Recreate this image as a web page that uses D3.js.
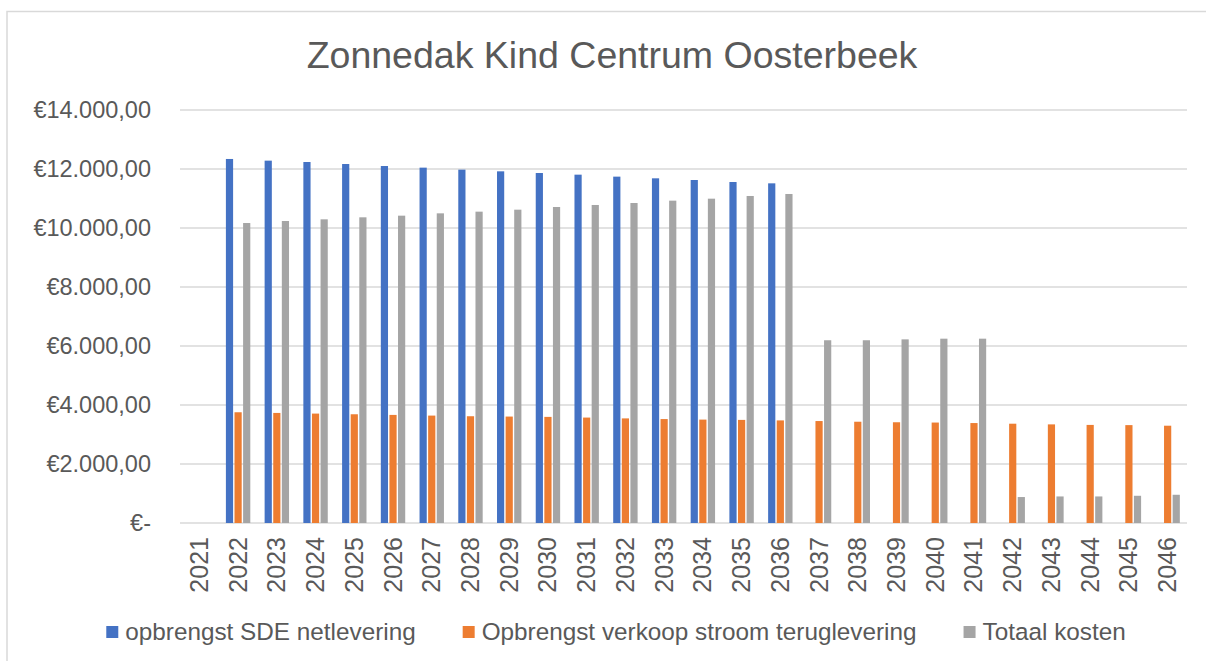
<!DOCTYPE html>
<html>
<head>
<meta charset="utf-8">
<script src="https://cdn.jsdelivr.net/npm/d3@7"></script>
<style>
    body { margin: 0; background: #fff; }
    text { font-family: "Liberation Sans", Arial, sans-serif; fill: #595959; }
</style>
</head>
<body>
<div id="chart"></div>
<script>
/* Zonnedak Kind Centrum Oosterbeek - clustered columns */

const years = d3.range(2021, 2047).map(String);

// opbrengst SDE netlevering (2022-2036)
const sde = [null,
    12340, 12283, 12237, 12169, 12101, 12046, 11978, 11921, 11864, 11808,
    11741, 11684, 11627, 11559, 11514,
    null, null, null, null, null, null, null, null, null, null];

// Opbrengst verkoop stroom teruglevering
const verkoop = [null,
    3754, 3731, 3709, 3686, 3664, 3641, 3619, 3608, 3597, 3574,
    3546, 3523, 3505, 3495, 3478, 3456, 3433, 3415, 3405, 3388,
    3366, 3343, 3325, 3318, 3298];

// Totaal kosten
const kosten = [null,
    10169, 10237, 10294, 10362, 10418, 10497, 10554, 10621, 10712, 10780,
    10847, 10927, 10994, 11085, 11153,
    6195, 6195, 6225, 6248, 6248,
    880, 900, 900, 923, 957];

const seriesNames = ["opbrengst SDE netlevering", "Opbrengst verkoop stroom teruglevering", "Totaal kosten"];
const colors = ["#4472C4", "#ED7D31", "#A5A5A5"];
const yTicks = [0, 2000, 4000, 6000, 8000, 10000, 12000, 14000];

const width = 1206,
    height = 661,
    margin = ({ top: 110, right: 19, bottom: 138, left: 180 });

const svg = d3.select("#chart")
    .append("svg")
    .attr("width", width)
    .attr("height", height)
    .attr("viewBox", [0, 0, width, height]);

// chart frame
svg.append("rect")
    .attr("x", 7)
    .attr("y", 11.5)
    .attr("width", width + 20)
    .attr("height", height + 20)
    .attr("fill", "none")
    .attr("stroke", "#d9d9d9")
    .attr("stroke-width", 1.5);

const x = d3.scaleBand()
    .domain(years)
    .range([margin.left, width - margin.right]);

const y = d3.scaleLinear()
    .domain([0, 14000])
    .range([height - margin.bottom, margin.top]);

const fmt = v => v === 0 ? "€-" : "€" + d3.format(",.2f")(v).replace(/,/g, "#").replace(".", ",").replace(/#/g, ".");

// gridlines
svg.append("g")
    .selectAll("line")
    .data(yTicks)
    .join("line")
    .attr("x1", margin.left)
    .attr("x2", width - margin.right)
    .attr("y1", d => y(d))
    .attr("y2", d => y(d))
    .attr("stroke", "#d9d9d9")
    .attr("stroke-width", 1.5);

// y labels
svg.append("g")
    .selectAll("text")
    .data(yTicks)
    .join("text")
    .attr("x", 151)
    .attr("y", d => y(d))
    .attr("dy", "0.36em")
    .attr("text-anchor", "end")
    .style("font-size", "23.5px")
    .text(fmt);

// bars
const data = [sde, verkoop, kosten];
const slot = 8.6;

data.forEach((vals, i) => {
    svg.append("g")
        .selectAll("rect")
        .data(years.map((yr, j) => ({ yr, v: vals[j] })).filter(d => d.v != null))
        .join("rect")
        .attr("x", d => x(d.yr) + x.bandwidth() / 2 + (i - 1) * slot - 3.6)
        .attr("width", 7.2)
        .attr("y", d => y(d.v))
        .attr("height", d => y(0) - y(d.v))
        .attr("fill", colors[i]);
});

// x labels
svg.append("g")
    .selectAll("text")
    .data(years)
    .join("text")
    .attr("transform", d => `translate(${x(d) + x.bandwidth() / 2 + 8.5},537) rotate(-90)`)
    .attr("text-anchor", "end")
    .style("font-size", "25px")
    .text(d => d);

// title
svg.append("text")
    .attr("x", 612)
    .attr("y", 68)
    .attr("text-anchor", "middle")
    .style("font-size", "37.5px")
    .text("Zonnedak Kind Centrum Oosterbeek");

// legend
const legend = svg.append("g");
const items = legend.selectAll("g")
    .data(seriesNames)
    .join("g");

items.append("rect")
    .attr("width", 12)
    .attr("height", 12)
    .attr("y", -14)
    .attr("fill", (d, i) => colors[i]);

items.append("text")
    .attr("x", 19)
    .style("font-size", "24.3px")
    .text(d => d);

let pos = 0;
const gap = 47;
items.each(function () {
    const w = this.getBBox().width;
    d3.select(this).attr("transform", `translate(${pos},640)`);
    pos += w + gap;
});
const total = pos - gap;
legend.attr("transform", `translate(${616 - total / 2},0)`);
</script>
</body>
</html>
